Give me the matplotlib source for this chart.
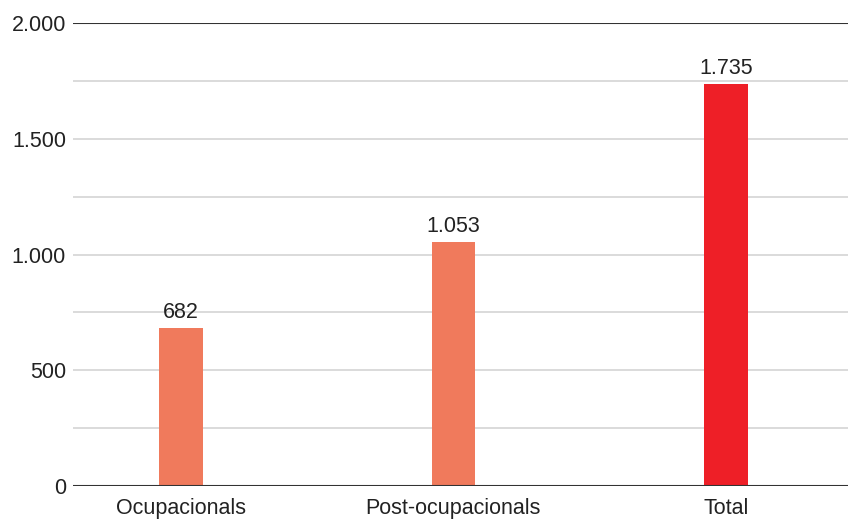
import matplotlib.pyplot as plt
import numpy as np

categories = ["Ocupacionals", "Post-ocupacionals", "Total"]
values = [682, 1053, 1735]
labels = ["682", "1.053", "1.735"]
colors = ["#F07A5C", "#F07A5C", "#EE1F27"]
yticks = [0, 500, 1000, 1500, 2000]
ytick_labels = ["0", "500", "1.000", "1.500", "2.000"]

plt.rcParams['font.family'] = ['Liberation Sans', 'DejaVu Sans']

fig = plt.figure(figsize=(8.48, 5.2), dpi=100)
ax = fig.add_axes([73 / 848, 1 - 486 / 520, 775 / 848, 463 / 520])

x = np.arange(len(categories))
ax.bar(x, values, width=0.16, color=colors, zorder=3)
for xi, v, lab in zip(x, values, labels):
    ax.text(xi, v + 22, lab, ha='center', va='bottom', fontsize=15.5, color='#222222')

for g in np.arange(250, 2000, 250):
    ax.axhline(g, color='#d4d4d4', lw=1.2, zorder=1)
ax.axhline(0, color='#333333', lw=1.5, zorder=4)
ax.axhline(2000, color='#333333', lw=1.5, zorder=4)

ax.set_xlim(-0.396, 2.448)
ax.set_ylim(0, 2000)
ax.set_yticks(yticks)
ax.set_yticklabels(ytick_labels)
ax.set_xticks(x)
ax.set_xticklabels(categories)
ax.tick_params(axis='both', length=0, labelsize=15.5, colors='#222222')
ax.tick_params(axis='y', pad=5)
ax.tick_params(axis='x', pad=8.5)
for s in ax.spines.values():
    s.set_visible(False)

fig.savefig("out.png", dpi=100)
